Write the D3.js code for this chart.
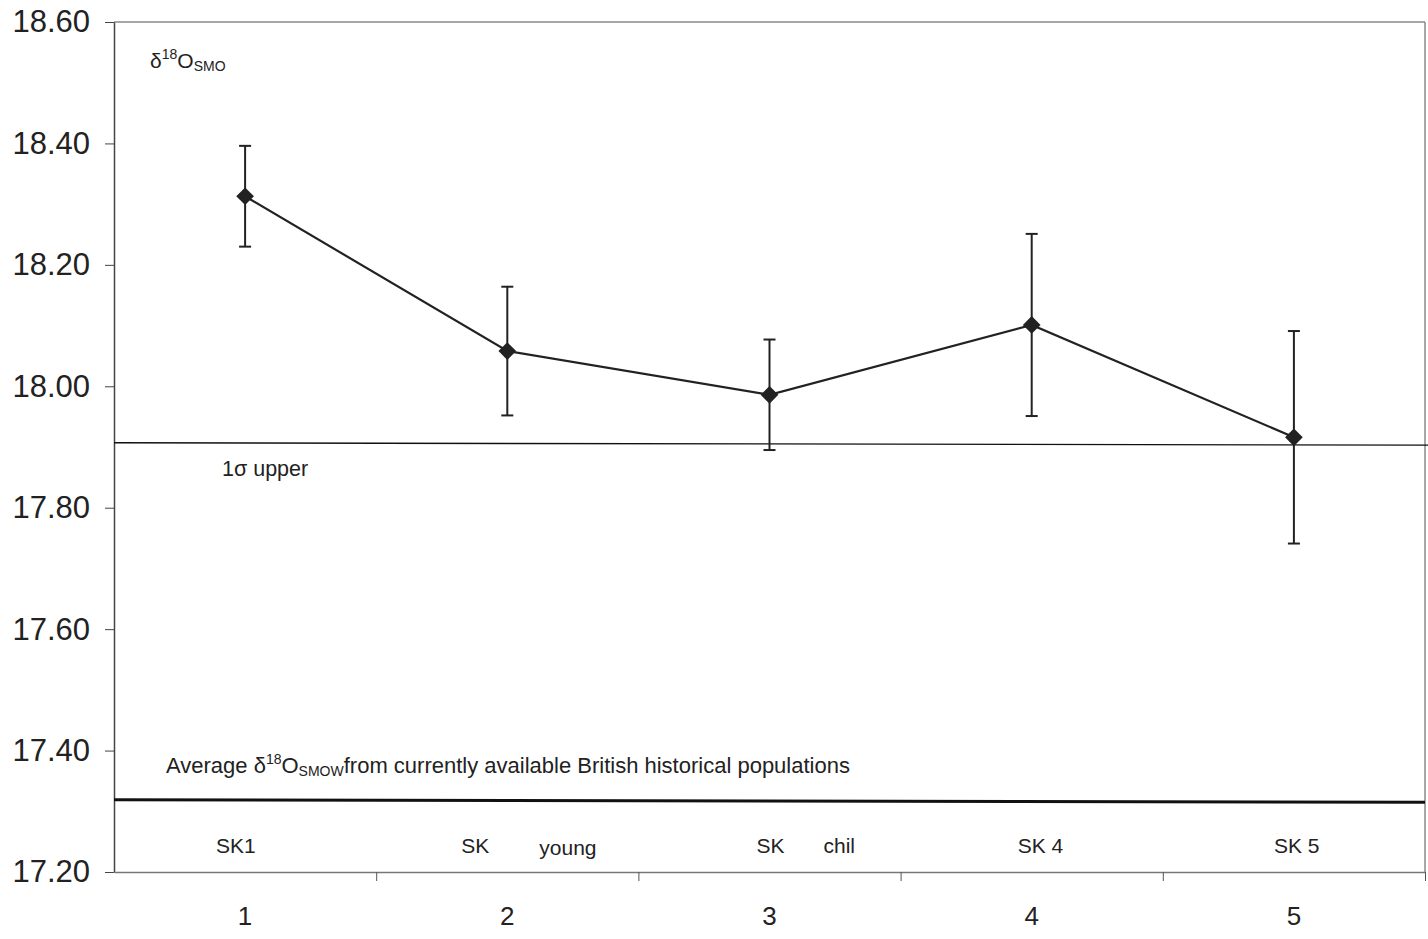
<!DOCTYPE html>
<html>
<head>
<meta charset="utf-8">
<script src="https://cdn.jsdelivr.net/npm/d3@7"></script>
<style>
  body { margin: 0; background: #fff; }
  text { font-family: "Liberation Sans", Arial, sans-serif; fill: #222; }
</style>
</head>
<body>
<svg id="chart" width="1428" height="939"></svg>
<script>
// data
var samples = [1, 2, 3, 4, 5];
var sampleNames = ["SK1", "SK", "SK", "SK 4", "SK 5"];
var sampleNotes = ["", "young", "chil", "", ""];
var means = [18.313, 18.058, 17.986, 18.101, 17.916];
var errors = [0.083, 0.106, 0.091, 0.150, 0.175];
var yTicks = [17.20, 17.40, 17.60, 17.80, 18.00, 18.20, 18.40, 18.60];
var sigmaLine = [17.907, 17.903];   // "1σ upper", left and right end
var averageLine = [17.319, 17.315]; // British historical average, left and right end

const svg = d3.select('#chart');
const margin = {left: 114, right: 3, top: 22, bottom: 67};
const W = 1428, H = 939;

// label placement relative to each category centre (px), as in the original
const nameShift = [-29, -46, -13, -14, -20];
const noteShift = [0, 32, 54, 0, 0];

const x = d3.scaleLinear().domain([0.5, 5.5]).range([margin.left, W - margin.right]);
const y = d3.scaleLinear().domain([17.2, 18.6]).range([H - margin.bottom, margin.top]);

// frame: top and right border
svg.append('line')
    .attr('x1', margin.left).attr('x2', W - margin.right)
    .attr('y1', y(18.6)).attr('y2', y(18.6))
    .attr('stroke', '#8a8a8a').attr('stroke-width', 1.5);
svg.append('line')
    .attr('x1', W - margin.right).attr('x2', W - margin.right)
    .attr('y1', y(18.6)).attr('y2', y(17.2))
    .attr('stroke', '#8a8a8a').attr('stroke-width', 1.5);

// y axis
const yAxis = svg.append('g')
    .attr('transform', `translate(${margin.left},0)`)
    .call(d3.axisLeft(y).tickValues(yTicks).tickFormat(d3.format('.2f')).tickSize(9).tickSizeOuter(0).tickPadding(15));
yAxis.select('.domain').attr('stroke', '#444').attr('stroke-width', 1.5);
yAxis.selectAll('.tick line').attr('stroke', '#444');
yAxis.selectAll('.tick text')
    .attr('font-size', '31px')
    .attr('font-family', '"Liberation Sans", Arial, sans-serif')
    .attr('fill', '#222');

// x axis: ticks between categories
const xAxis = svg.append('g')
    .attr('transform', `translate(0,${y(17.2)})`)
    .call(d3.axisBottom(x).tickValues([1.5, 2.5, 3.5, 4.5, 5.5]).tickFormat('').tickSize(9).tickSizeOuter(0));
xAxis.select('.domain').attr('stroke', '#777').attr('stroke-width', 1.5);
xAxis.selectAll('.tick line').attr('stroke', '#555');

svg.append('g').selectAll('text').data(samples).enter().append('text')
    .attr('x', d => x(d))
    .attr('y', 925)
    .attr('text-anchor', 'middle')
    .attr('font-size', '26px')
    .text(d => d);

// reference lines
svg.append('line')
    .attr('x1', margin.left).attr('x2', W)
    .attr('y1', y(sigmaLine[0])).attr('y2', y(sigmaLine[1]))
    .attr('stroke', '#111').attr('stroke-width', 1.3);
svg.append('line')
    .attr('x1', margin.left).attr('x2', W - margin.right)
    .attr('y1', y(averageLine[0])).attr('y2', y(averageLine[1]))
    .attr('stroke', '#111').attr('stroke-width', 3);

// series line
const line = d3.line().x((d, i) => x(samples[i])).y(d => y(d));
svg.append('path')
    .datum(means)
    .attr('d', line)
    .attr('fill', 'none')
    .attr('stroke', '#222')
    .attr('stroke-width', 2.2);

// error bars
const eb = svg.append('g').attr('stroke', '#222').attr('stroke-width', 2);
means.forEach((m, i) => {
    const cx = x(samples[i]);
    eb.append('line').attr('x1', cx).attr('x2', cx)
        .attr('y1', y(m + errors[i])).attr('y2', y(m - errors[i]));
    [m + errors[i], m - errors[i]].forEach(v => {
        eb.append('line').attr('x1', cx - 6).attr('x2', cx + 6)
            .attr('y1', y(v)).attr('y2', y(v));
    });
});

// diamond markers
svg.append('g').selectAll('path').data(means).enter().append('path')
    .attr('transform', (d, i) => `translate(${x(samples[i])},${y(d)})`)
    .attr('d', d3.symbol().type(d3.symbolDiamond2).size(200))
    .attr('fill', '#222');

// sample labels
svg.append('g').selectAll('text').data(sampleNames).enter().append('text')
    .attr('x', (d, i) => x(samples[i]) + nameShift[i])
    .attr('y', 853)
    .attr('font-size', '21px')
    .text(d => d);
svg.append('g').selectAll('text').data(sampleNotes).enter().append('text')
    .attr('x', (d, i) => x(samples[i]) + noteShift[i])
    .attr('y', (d, i) => i === 1 ? 855 : 853)
    .attr('font-size', '21px')
    .text(d => d);

// annotations
const t1 = svg.append('text').attr('x', 150).attr('y', 68).attr('font-size', '21px');
t1.append('tspan').text('δ');
t1.append('tspan').attr('dy', -9).attr('font-size', '14px').text('18');
t1.append('tspan').attr('dy', 9).text('O');
t1.append('tspan').attr('dy', 3).attr('font-size', '14px').text('SMO');

svg.append('text').attr('x', 222).attr('y', 476).attr('font-size', '21.5px').text('1σ upper');

const t2 = svg.append('text').attr('x', 166).attr('y', 773).attr('font-size', '22px');
t2.append('tspan').text('Average δ');
t2.append('tspan').attr('dy', -9).attr('font-size', '14px').text('18');
t2.append('tspan').attr('dy', 9).text('O');
t2.append('tspan').attr('dy', 3).attr('font-size', '14px').text('SMOW');
t2.append('tspan').attr('dy', -3).text('from currently available British historical populations');
</script>
</body>
</html>
